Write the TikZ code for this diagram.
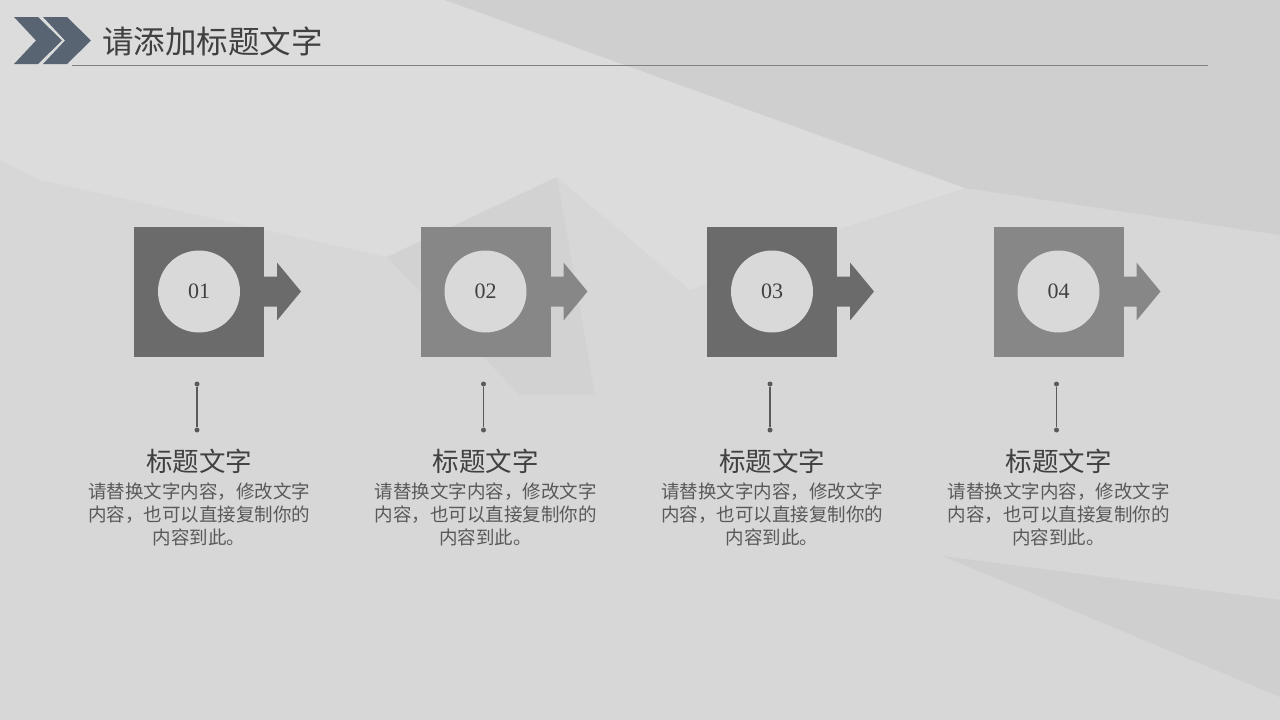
\documentclass[tikz,border=0pt]{standalone}
\usepackage{fontspec}
\setmainfont{Liberation Serif}
\newfontfamily\cjk{Noto Sans CJK SC}
\definecolor{bgbase}{HTML}{D7D7D7}
\definecolor{bglight}{HTML}{DCDCDC}
\definecolor{bgdark}{HTML}{CFCFCF}
\definecolor{bgmid}{HTML}{D2D2D2}
\definecolor{slate}{HTML}{596473}
\definecolor{sqdark}{HTML}{6B6B6B}
\definecolor{sqlight}{HTML}{878787}
\definecolor{circ}{HTML}{D9D9D9}
\definecolor{conn}{HTML}{5A5A5A}
\definecolor{titlec}{HTML}{404040}
\definecolor{bodyc}{HTML}{595959}
\tikzset{
  sqbox/.style={minimum size=130pt, inner sep=0pt, outer sep=0pt, draw=none},
  numcirc/.style={circle, fill=circ, minimum size=82pt, inner sep=0pt,
    font=\fontsize{22}{22}\selectfont, text=titlec},
  conndot/.style={circle, fill=conn, minimum size=5pt, inner sep=0pt},
  connline/.style={draw=conn, line width=1.2pt},
  itemtitle/.style={font=\cjk\fontsize{26.5}{26.5}\selectfont, text=titlec, inner sep=0pt},
  itembody/.style={font=\cjk\fontsize{18.5}{23}\selectfont, text=bodyc, align=center, inner sep=0pt, anchor=north},
}
\begin{document}
\begin{tikzpicture}[x=1pt,y=-1pt]
\useasboundingbox (0,0) rectangle (1280,720);
% background
\fill[bgbase] (0,0) rectangle (1280,720);
\fill[bglight] (0,0) -- (445,0) -- (965,188) -- (836,230) -- (690,290) -- (557,177) -- (387,257) -- (40,180) -- (0,160) -- cycle;
\fill[bgdark] (445,0) -- (1280,0) -- (1280,235) -- (965,188) -- cycle;
\fill[bgmid] (387,257) -- (557,177) -- (595,395) -- (520,395) -- cycle;
\fill[bgdark] (943,556) -- (1280,600) -- (1280,697) -- cycle;
% header
\fill[slate] (14,17) -- (38,17) -- (62,40.5) -- (38,64) -- (14,64) -- (36,40.5) -- cycle;
\fill[slate] (43,17) -- (67,17) -- (91,40.5) -- (67,64) -- (43,64) -- (65,40.5) -- cycle;
\node[anchor=west, inner sep=0pt, font=\cjk\fontsize{31.5}{31.5}\selectfont, text=titlec] (head) at (102,41) {请添加标题文字};
\coordinate (hl) at (72,65);
\coordinate (hr) at (1208,65);
\draw[draw=gray, line width=1pt] (hl) -- (hr);
% items
\foreach \i/\x/\c in {1/199/sqdark, 2/485.5/sqlight, 3/772/sqdark, 4/1058.5/sqlight}{
  \node[sqbox, fill=\c] (s\i) at (\x,291.5) {};
  \fill[\c] (s\i.east) ++(0,-15) -- ++(13,0) -- ++(0,-14) -- ++(24,29) -- ++(-24,29) -- ++(0,-14) -- ++(-13,0) -- cycle;
  \node[numcirc] (c\i) at (s\i.center) {0\i};
  \node[conndot] (t\i) at (\x-2,384) {};
  \node[conndot] (b\i) at (\x-2,430) {};
  \draw[connline] (t\i) -- (b\i);
  \node[itemtitle] (h\i) at (\x,461) {标题文字};
  \node[itembody] (d\i) at (\x,483) {请替换文字内容，修改文字\\内容，也可以直接复制你的\\内容到此。};
}
\end{tikzpicture}
\end{document}
